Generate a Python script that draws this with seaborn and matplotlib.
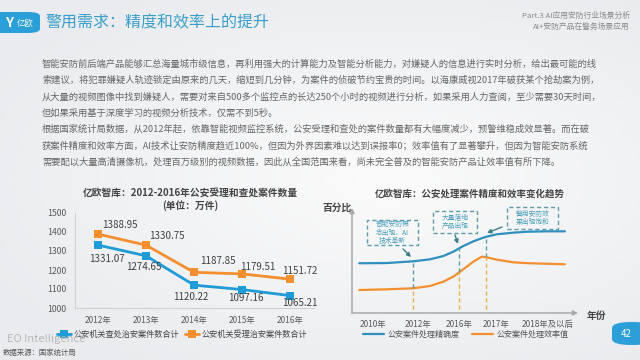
import numpy as np
import pandas as pd
import matplotlib
matplotlib.use('Agg')
import matplotlib.pyplot as plt
from matplotlib.patches import FancyBboxPatch, Rectangle
from matplotlib.colors import LinearSegmentedColormap
import seaborn as sns

# left chart: cases accepted / handled (unit: 10k)
years = ['2012年', '2013年', '2014年', '2015年', '2016年']
handled = [1331.07, 1274.65, 1120.22, 1097.16, 1065.21]
accepted = [1388.95, 1330.75, 1187.85, 1179.51, 1151.72]
series_names = ['公安机关查处治安案件数合计', '公安机关受理治安案件数合计']

# right chart: trend sketch (0-100 scale)
trend_x = [3.2, 15.4, 27.1, 34.5, 40.4, 44.8, 49.2, 53.7, 57.4, 59.6, 64.0, 71.4, 77.3, 86.2, 94.2]
precision = [48.3, 48.5, 50.2, 52.1, 55.3, 59.5, 65.0, 69.6, 72.6, 74.1, 76.4, 78.0, 78.9, 79.3, 79.3]
efficiency = [22.3, 23.0, 24.0, 26.2, 30.4, 35.2, 42.4, 49.8, 54.7, 54.1, 51.8, 49.2, 48.4, 47.8, 47.3]
trend_names = ['公安案件处理精确度', '公安案件处理效率值']
trend_ticks = ['2010年', '2012年', '2016年', '2017年', '2018年及以后']
marks_x = [27.1, 47.5, 59.3]
marks_top = [50.2, 62.5, 73.8]
marks_mid = [24.0, 39.5, 54.4]
notes = ['智能安防概\n念出现，AI\n技术革新', '大量落地\n产品出现', '警用安防效\n果出现饱和']

title = '警用需求：精度和效率上的提升'
part_lines = ['Part.3 AI应用安防行业场景分析', 'AI+安防产品在警务场景应用']
para = [
    '智能安防前后端产品能够汇总海量城市级信息，再利用强大的计算能力及智能分析能力，对嫌疑人的信息进行实时分析，给出最可能的线',
    '索建议，将犯罪嫌疑人轨迹锁定由原来的几天，缩短到几分钟，为案件的侦破节约宝贵的时间。以海康威视2017年破获某个抢劫案为例，',
    '从大量的视频图像中找到嫌疑人，需要对来自500多个监控点的长达250个小时的视频进行分析，如果采用人力查阅，至少需要30天时间，',
    '但如果采用基于深度学习的视频分析技术，仅需不到5秒。',
    '根据国家统计局数据，从2012年起，依靠智能视频监控系统，公安受理和查处的案件数量都有大幅度减少，预警维稳成效显著。而在破',
    '获案件精度和效率方面，AI技术让安防精度趋近100%，但因为外界因素难以达到误报率0；效率值有了显著攀升，但因为智能安防系统',
    '需要配以大量高清摄像机，处理百万级别的视频数据，因此从全国范围来看，尚未完全普及的智能安防产品让效率值有所下降。',
]

sns.set_theme(style='white')
plt.rcParams['font.family'] = ['Noto Sans CJK SC', 'DejaVu Sans']
plt.rcParams['axes.unicode_minus'] = False

W, H = 640, 360
def fx(x): return x / W
def fy(y): return 1 - y / H

BLUE = '#1f9bd7'
ORANGE = '#f38f2f'
TEAL = '#2f8fbf'
BOXC = '#5b9ea8'
GRAY = '#5a5a5a'

fig = plt.figure(figsize=(6.4, 3.6), dpi=100)

# background
bg = fig.add_axes([0, 0, 1, 1], zorder=-10)
gx, gy = np.meshgrid(np.linspace(0, 1, 128), np.linspace(0, 1, 72))
grad = np.sqrt(((gx - 0.6) / 0.9) ** 2 + ((gy - 0.5) / 0.8) ** 2)
bg.imshow(grad, extent=[0, 1, 0, 1], aspect='auto',
          cmap=LinearSegmentedColormap.from_list('bg', ['#fbfbfb', '#e9ebee']), vmin=0, vmax=0.8)
bg.axis('off')

# header
logo = FancyBboxPatch((fx(-12), fy(33)), fx(52), 21 / H, boxstyle='round,pad=0,rounding_size=0.02',
                      transform=fig.transFigure, fc='#2a9fd8', ec='none', mutation_aspect=H / W)
fig.patches.append(logo)
fig.text(fx(9), fy(23), 'Y', color='white', fontsize=10, fontweight='bold', ha='center', va='center')
fig.text(fx(25), fy(23), '亿欧', color='white', fontsize=6, ha='center', va='center')
fig.text(fx(45), fy(23), title, color='#3a9fcb', fontsize=11.5, ha='left', va='center')
fig.text(fx(630), fy(16), part_lines[0], color='#8a8a8a', fontsize=5.6, ha='right', va='center')
fig.text(fx(630), fy(27), part_lines[1], color='#8a8a8a', fontsize=5.6, ha='right', va='center')

for i, line in enumerate(para):
    fig.text(fx(42), fy(64 + 16.3 * i), line, color='#666666', fontsize=6.7, ha='left', va='center')

# left chart
ax1 = fig.add_axes([fx(75), fy(308), 239 / W, 95 / H])
df1 = pd.DataFrame({'year': years * 2, 'value': handled + accepted,
                    'series': [series_names[0]] * 5 + [series_names[1]] * 5})
sns.lineplot(data=df1, x='year', y='value', hue='series', palette=[BLUE, ORANGE], sort=False,
             marker='s', markersize=5.5, markeredgewidth=0, linewidth=2, legend=False, ax=ax1)
ax1.set_xlim(-0.48, 4.5)
ax1.set_ylim(1000, 1500)
ax1.set_yticks(range(1000, 1501, 100))
ax1.set_xlabel('')
ax1.set_ylabel('')
ax1.set_facecolor('none')
for s in ['top', 'right']:
    ax1.spines[s].set_visible(False)
for s in ['left', 'bottom']:
    ax1.spines[s].set_color('#d0d0d0')
    ax1.spines[s].set_linewidth(0.8)
ax1.tick_params(axis='y', labelsize=6.3, colors=GRAY, length=0, pad=6)
ax1.tick_params(axis='x', labelsize=6, colors=GRAY, length=0, pad=6)

off_acc = [(22, -9), (21, -9), (24, -11), (16, -7), (10, -8)]
off_han = [(9, 14), (-2, 11), (-3, 12), (4, 8), (10, 7)]
for i, v in enumerate(accepted):
    ax1.annotate(f'{v:.2f}', (i, v), xytext=(off_acc[i][0] * 0.72, -off_acc[i][1] * 0.72),
                 textcoords='offset points', ha='center', va='center', fontsize=7, color='#404040')
for i, v in enumerate(handled):
    ax1.annotate(f'{v:.2f}', (i, v), xytext=(off_han[i][0] * 0.72, -off_han[i][1] * 0.72),
                 textcoords='offset points', ha='center', va='center', fontsize=7, color='#404040')

fig.text(fx(190), fy(193), '亿欧智库：2012-2016年公安受理和查处案件数量', fontsize=7, fontweight='bold',
         color='#444444', ha='center', va='center')
fig.text(fx(190), fy(206), '(单位：万件)', fontsize=7, fontweight='bold', color='#444444',
         ha='center', va='center')

fig.text(fx(7), fy(339), 'EO Intelligence', fontsize=8, color='#b8b8b8', ha='left', va='center', zorder=1)
fig.text(fx(3), fy(353), '数据来源：国家统计局', fontsize=5.3, color='#555555', style='italic',
         ha='left', va='center')

leg1 = ax1.legend(ax1.lines[:2], series_names, loc='center', bbox_to_anchor=(fx(182), fy(334)),
                  bbox_transform=fig.transFigure, ncol=2, frameon=False, fontsize=5.9,
                  handlelength=1.7, columnspacing=0.8, handletextpad=0.3, borderpad=0)
for t in leg1.get_texts():
    t.set_color('#444444')

# right chart
ax2 = fig.add_axes([fx(352), fy(313), 226 / W, 103 / H])
sns.lineplot(x=trend_x, y=precision, color=TEAL, linewidth=1.6, sort=False, ax=ax2, label=trend_names[0])
sns.lineplot(x=trend_x, y=efficiency, color=ORANGE, linewidth=1.6, sort=False, ax=ax2, label=trend_names[1])
ax2.set_xlim(0, 100)
ax2.set_ylim(0, 100)
ax2.set_facecolor('none')
for s in ax2.spines.values():
    s.set_visible(False)
ax2.set_yticks([])
ax2.set_xticks([9.3, 29.2, 47.3, 63.7, 86.7])
ax2.set_xticklabels(trend_ticks)
ax2.tick_params(axis='x', labelsize=6, colors=GRAY, length=0, pad=5)

arrow = dict(arrowstyle='-|>', color='#a8a8a8', lw=1.1, mutation_scale=7, shrinkA=0, shrinkB=0)
ax2.annotate('', xy=(0, 1.02), xytext=(0, 0), xycoords='axes fraction', arrowprops=arrow)
ax2.annotate('', xy=(1.0, 0), xytext=(0, 0), xycoords='axes fraction', arrowprops=arrow)

for x, top, mid in zip(marks_x, marks_top, marks_mid):
    ax2.plot([x, x], [mid, top], color=BOXC, ls=(0, (3, 2)), lw=1)
    ax2.plot([x, x], [4, mid], color='#e6b04a', ls=(0, (3, 2)), lw=1)

def d(px, py):
    return ((px - 352) / 2.26, (313 - py) / 1.03)

boxes = [(367, 245, 51, 25), (433, 233, 44, 22), (507, 229, 51, 22)]
arrows = [((403, 249), (411, 257)), ((455, 235), (458, 244)), ((502, 227), (487, 233))]
for note, (bx, by, bw, bh), (a0, a1) in zip(notes, boxes, arrows):
    x0, y0 = d(bx, by)
    ax2.add_patch(Rectangle((x0, y0), bw / 2.26, bh / 1.03, fill=False, ec=BOXC, ls=(0, (3, 2)),
                            lw=1, clip_on=False))
    cx, cy = d(bx + bw / 2, by - bh / 2)
    ax2.text(cx, cy, note, ha='center', va='center', fontsize=4.9, color='#4a9fbb',
             linespacing=1.1, clip_on=False)
    ax2.annotate('', xy=d(*a1), xytext=d(*a0),
                 arrowprops=dict(arrowstyle='-|>', color='#3f7f8c', lw=1, mutation_scale=6,
                                 shrinkA=0, shrinkB=0))

fig.text(fx(470), fy(194), '亿欧智库：公安处理案件精度和效率变化趋势', fontsize=6.8, fontweight='bold',
         color='#444444', ha='center', va='center')
fig.text(fx(337), fy(208), '百分比', fontsize=7, fontweight='bold', color='#444444', ha='center', va='center')
fig.text(fx(596), fy(316), '年份', fontsize=7, fontweight='bold', color='#444444', ha='center', va='center')

leg2 = ax2.legend(loc='center', bbox_to_anchor=(fx(466), fy(334)), bbox_transform=fig.transFigure,
                  ncol=2, frameon=False, fontsize=5.8, handlelength=2.5, columnspacing=1.6,
                  handletextpad=0.5, borderpad=0)
for t in leg2.get_texts():
    t.set_color('#555555')

# page number
pill = FancyBboxPatch((fx(612), fy(345)), 40 / W, 23 / H, boxstyle='round,pad=0,rounding_size=0.03',
                      transform=fig.transFigure, fc='#2a9fd8', ec='none', mutation_aspect=H / W)
fig.patches.append(pill)
fig.text(fx(626), fy(334), '42', color='white', fontsize=7, ha='center', va='center')

fig.savefig('out.png', dpi=100)
